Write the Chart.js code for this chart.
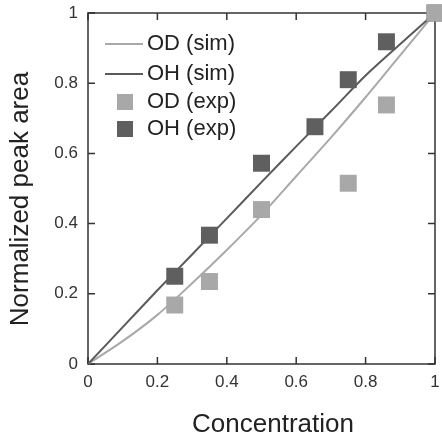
<!DOCTYPE html>
<html>
<head>
<meta charset="utf-8">
<script src="https://cdn.jsdelivr.net/npm/chart.js@4"></script>
<style>
html, body { margin: 0; padding: 0; background: #fff; }
</style>
</head>
<body>
<canvas id="myChart" width="442" height="436"></canvas>
<script>
// data
var simConc = [0, 0.1, 0.2, 0.3, 0.4, 0.5, 0.6, 0.7, 0.8, 0.9, 1];
var odSim = [0, 0.065, 0.14, 0.23, 0.325, 0.425, 0.535, 0.645, 0.76, 0.88, 1];
var ohSim = [0, 0.105, 0.21, 0.312, 0.415, 0.518, 0.62, 0.72, 0.822, 0.912, 1];

var odExpConc = [0.25, 0.35, 0.5, 0.75, 0.86, 1];
var odExp = [0.168, 0.235, 0.44, 0.515, 0.738, 1];
var ohExpConc = [0.25, 0.35, 0.5, 0.654, 0.75, 0.86, 1];
var ohExp = [0.25, 0.367, 0.572, 0.676, 0.81, 0.918, 1];

var tickValues = [0, 0.2, 0.4, 0.6, 0.8, 1];
var legendLabels = ['OD (sim)', 'OH (sim)', 'OD (exp)', 'OH (exp)'];

var lightLine = '#a9a9a9', darkLine = '#5a5a5a';
var lightBox = '#a8a8a8', darkBox = '#5f5f5f';
var font = '"Liberation Sans", Arial, sans-serif';

function pts(xs, ys) {
    return xs.map(function (x, i) { return {x: x, y: ys[i]}; });
}

function fixScale(w, h) {
    return function (s) {
        if (w) s.width = w;
        if (h) s.height = h;
        s.paddingLeft = 0; s.paddingRight = 0;
        s.paddingTop = 0; s.paddingBottom = 0;
    };
}

// frame + inward ticks on all four sides
var framePlugin = {
    id: 'frame',
    beforeDatasetsDraw: function (chart) {
        var ctx = chart.ctx, a = chart.chartArea;
        var xs = chart.scales.x, ys = chart.scales.y;
        ctx.save();
        ctx.strokeStyle = '#333';
        ctx.lineWidth = 1.5;
        ctx.strokeRect(a.left, a.top, a.right - a.left, a.bottom - a.top);
        ctx.beginPath();
        tickValues.forEach(function (v) {
            var px = xs.getPixelForValue(v), py = ys.getPixelForValue(v);
            ctx.moveTo(px, a.bottom); ctx.lineTo(px, a.bottom - 7);
            ctx.moveTo(px, a.top); ctx.lineTo(px, a.top + 7);
            ctx.moveTo(a.left, py); ctx.lineTo(a.left + 7, py);
            ctx.moveTo(a.right, py); ctx.lineTo(a.right - 7, py);
        });
        ctx.stroke();
        ctx.restore();
    },
    afterDraw: function (chart) {
        var ctx = chart.ctx;
        ctx.save();
        ctx.fillStyle = '#222';
        ctx.textAlign = 'center';
        ctx.textBaseline = 'middle';
        ctx.font = '26px ' + font;
        ctx.fillText('Concentration', 273, 425);
        ctx.translate(21, 199);
        ctx.rotate(-Math.PI / 2);
        ctx.fillText('Normalized peak area', 0, 0);
        ctx.restore();

        // legend
        var rows = [44, 74, 102, 129];
        ctx.save();
        ctx.font = '22px ' + font;
        ctx.textBaseline = 'middle';
        ctx.textAlign = 'left';
        ctx.lineWidth = 2;
        ctx.strokeStyle = lightLine;
        ctx.beginPath(); ctx.moveTo(105, rows[0]); ctx.lineTo(143, rows[0]); ctx.stroke();
        ctx.strokeStyle = darkLine;
        ctx.beginPath(); ctx.moveTo(105, rows[1]); ctx.lineTo(143, rows[1]); ctx.stroke();
        ctx.fillStyle = lightBox;
        ctx.fillRect(117, rows[2] - 8, 16, 16);
        ctx.fillStyle = darkBox;
        ctx.fillRect(117, rows[3] - 8, 16, 16);
        ctx.fillStyle = '#222';
        legendLabels.forEach(function (t, i) {
            ctx.fillText(t, 147, rows[i]);
        });
        ctx.restore();
    }
};

var tickFmt = function (v) { return String(Math.round(v * 10) / 10); };

var ctx = document.getElementById('myChart').getContext('2d');
var chart = new Chart(ctx, {
    type: 'scatter',
    data: {
        datasets: [{
            label: 'OD (exp)',
            data: pts(odExpConc, odExp),
            pointStyle: 'rect',
            pointRadius: 12,
            backgroundColor: lightBox,
            borderWidth: 0,
            clip: false,
            order: 0
        }, {
            label: 'OH (exp)',
            data: pts(ohExpConc, ohExp),
            pointStyle: 'rect',
            pointRadius: 12,
            backgroundColor: darkBox,
            borderWidth: 0,
            clip: false,
            order: 1
        }, {
            type: 'line',
            label: 'OH (sim)',
            data: pts(simConc, ohSim),
            borderColor: darkLine,
            borderWidth: 2,
            pointRadius: 0,
            tension: 0.3,
            order: 2
        }, {
            type: 'line',
            label: 'OD (sim)',
            data: pts(simConc, odSim),
            borderColor: lightLine,
            borderWidth: 2,
            pointRadius: 0,
            tension: 0.3,
            order: 3
        }]
    },
    options: {
        responsive: false,
        animation: false,
        layout: {autoPadding: false, padding: {top: 13, right: 7, left: 0, bottom: 0}},
        plugins: {legend: {display: false}, tooltip: {enabled: false}},
        scales: {
            x: {
                type: 'linear', min: 0, max: 1,
                afterFit: fixScale(0, 72),
                ticks: {stepSize: 0.2, color: '#333', font: {size: 17, family: font}, padding: 8, callback: tickFmt},
                grid: {drawOnChartArea: false, drawTicks: false},
                border: {display: false}
            },
            y: {
                min: 0, max: 1,
                afterFit: fixScale(88, 0),
                ticks: {stepSize: 0.2, color: '#333', font: {size: 17, family: font}, padding: 10, callback: tickFmt},
                grid: {drawOnChartArea: false, drawTicks: false},
                border: {display: false}
            }
        }
    },
    plugins: [framePlugin]
});
</script>
</body>
</html>
